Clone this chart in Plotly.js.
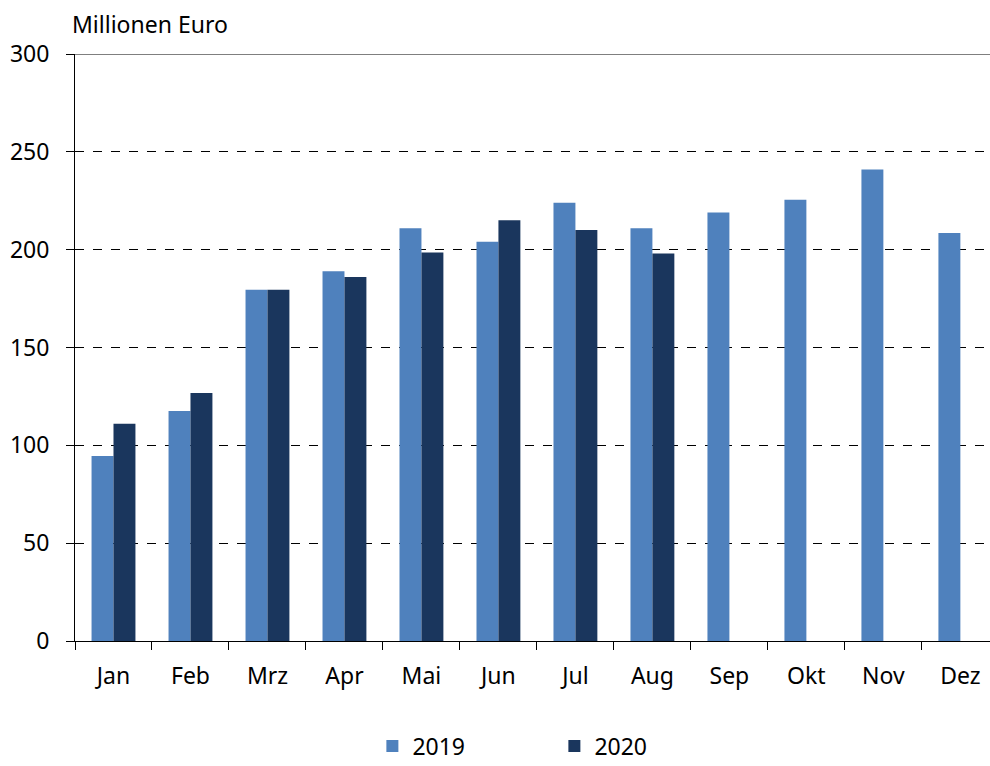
<!DOCTYPE html>
<html><head><meta charset="utf-8">
<script src="https://cdn.plot.ly/plotly-3.0.1.min.js"></script>
<style>html,body{margin:0;padding:0;background:#fff}#chart{width:990px;height:766px}</style>
</head><body><div id="chart"></div>
<script>
const months = ["Jan","Feb","Mrz","Apr","Mai","Jun","Jul","Aug","Sep","Okt","Nov","Dez"];
const values2019 = [94.5,117.5,179.5,189,211,204,224,211,219,225.5,241,208.5];
const values2020 = [111,126.7,179.5,186,198.5,215,210,198,null,null,null,null];
const yTicks = [0,50,100,150,200,250,300];

const font = {family: "Noto Sans, Open Sans, sans-serif", size: 23, color: "#000"};
const traces = [
  {type:"bar", name:"2019", x:months, y:values2019, marker:{color:"#4F81BD", line:{width:0}}},
  {type:"bar", name:"2020", x:months, y:values2020, marker:{color:"#1A365D", line:{width:0}}}
];
const layout = {
  width:990, height:766,
  margin:{l:75, r:0, t:54, b:125, autoexpand:false},
  paper_bgcolor:"#fff", plot_bgcolor:"#fff",
  font: font,
  barmode:"group", bargap:0.43, bargroupgap:0,
  showlegend:true,
  legend:{orientation:"h", x:0.325, xanchor:"left", yref:"container", y:0.026, yanchor:"middle",
          entrywidth:137, entrywidthmode:"pixels", itemwidth:30, font:font, traceorder:"normal",
          bgcolor:"rgba(0,0,0,0)"},
  xaxis:{type:"category", range:[-0.5, 11.385], tickson:"boundaries", ticks:"outside", ticklen:8,
         tickcolor:"#000", showline:true, linecolor:"#000", linewidth:1, showgrid:false,
         tickfont:font, ticklabelstandoff:14, fixedrange:true, automargin:false},
  yaxis:{range:[0,300], tickvals:yTicks, ticks:"outside", ticklen:8, tickcolor:"#000",
         showline:true, linecolor:"#000", linewidth:1, showgrid:true, gridcolor:"#000",
         griddash:"dash", gridwidth:1, zeroline:false, tickfont:font, ticklabelstandoff:12, automargin:false},
  shapes:[{type:"line", xref:"paper", yref:"y", x0:0, x1:1, y0:300, y1:300, line:{color:"#000", width:1}}],
  annotations:[{text:"Millionen Euro", xref:"paper", yref:"paper", x:-0.006, y:1, xanchor:"left", yanchor:"bottom",
                yshift:12, showarrow:false, font:font}]
};
Plotly.newPlot("chart", traces, layout, {displayModeBar:false, staticPlot:true});
</script></body></html>
